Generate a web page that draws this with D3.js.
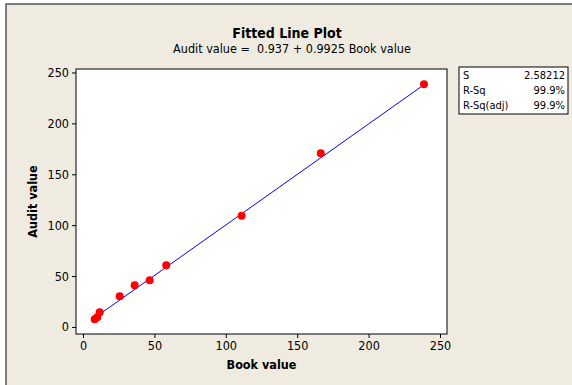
<!DOCTYPE html>
<html>
<head>
<meta charset="utf-8">
<script src="https://cdn.jsdelivr.net/npm/d3@7"></script>
<style>
  body { margin: 0; background: #fff; }
  text { font-family: "DejaVu Sans Condensed", "DejaVu Sans", sans-serif; fill: #000; }
</style>
</head>
<body>
<svg id="chart" width="572" height="385"></svg>
<script>
// data
var bookValue  = [8.2, 10.0, 11.7, 25.7, 36.2, 46.7, 58.3, 111.1, 166.5, 238.8];
var auditValue = [7.6, 9.5, 14.4, 30.2, 41.0, 45.9, 60.6, 109.3, 170.6, 238.4];
var fitIntercept = 0.937, fitSlope = 0.9925;
var xTicks = [0, 50, 100, 150, 200, 250];
var yTicks = [0, 50, 100, 150, 200, 250];
var statLabels = ["S", "R-Sq", "R-Sq(adj)"];
var statValues = ["2.58212", "99.9%", "99.9%"];

var svg = d3.select("#chart");

// beige frame
svg.append("rect")
    .attr("x", 6).attr("y", 4)
    .attr("width", 580).attr("height", 400)
    .attr("fill", "#efebe1")
    .attr("stroke", "#555")
    .attr("stroke-width", 1.5);

var box = {left: 76, right: 447, top: 69, bottom: 334};

var x = d3.scaleLinear().domain([-4.9, 254.9]).range([box.left, box.right]);
var y = d3.scaleLinear().domain([-6.9, 253.4]).range([box.bottom, box.top]);

svg.append("rect")
    .attr("x", box.left).attr("y", box.top)
    .attr("width", box.right - box.left).attr("height", box.bottom - box.top)
    .attr("fill", "#fff")
    .attr("stroke", "#000")
    .attr("stroke-width", 1);

var xAxis = svg.append("g")
    .attr("transform", "translate(0," + box.bottom + ")")
    .call(d3.axisBottom(x).tickValues(xTicks).tickSize(4).tickSizeOuter(0).tickPadding(3));
xAxis.select(".domain").remove();
xAxis.selectAll("text").style("font-size", "12.5px").style("font-family", null);

var yAxis = svg.append("g")
    .attr("transform", "translate(" + box.left + ",0)")
    .call(d3.axisLeft(y).tickValues(yTicks).tickSize(4).tickSizeOuter(0).tickPadding(3));
yAxis.select(".domain").remove();
yAxis.selectAll("text").style("font-size", "12.5px").style("font-family", null);

// fitted line over the data range
var xMin = d3.min(bookValue), xMax = d3.max(bookValue);
var fitLine = [xMin, xMax].map(function(v) { return [v, fitIntercept + fitSlope * v]; });
svg.append("path")
    .datum(fitLine)
    .attr("fill", "none")
    .attr("stroke", "#0000ff")
    .attr("stroke-width", 1)
    .attr("d", d3.line().x(function(d) { return x(d[0]); }).y(function(d) { return y(d[1]); }));

svg.append("g").selectAll("circle")
    .data(d3.range(bookValue.length))
    .enter().append("circle")
    .attr("cx", function(i) { return x(bookValue[i]); })
    .attr("cy", function(i) { return y(auditValue[i]); })
    .attr("r", 4)
    .attr("fill", "#ff0000");

// titles
svg.append("text")
    .attr("x", 287).attr("y", 38)
    .attr("text-anchor", "middle")
    .style("font-size", "14px").style("font-weight", "bold")
    .text("Fitted Line Plot");
svg.append("text")
    .attr("x", 292).attr("y", 53)
    .attr("text-anchor", "middle")
    .style("font-size", "12.5px")
    .attr("xml:space", "preserve")
    .text("Audit value =  0.937 + 0.9925 Book value");

svg.append("text")
    .attr("x", (box.left + box.right) / 2).attr("y", 369)
    .attr("text-anchor", "middle")
    .style("font-size", "12.5px").style("font-weight", "bold")
    .text("Book value");
svg.append("text")
    .attr("transform", "translate(37," + ((box.top + box.bottom) / 2) + ") rotate(-90)")
    .attr("text-anchor", "middle")
    .style("font-size", "12.5px").style("font-weight", "bold")
    .text("Audit value");

// stats box
var stats = svg.append("g").attr("transform", "translate(459,67)");
stats.append("rect")
    .attr("width", 109).attr("height", 47)
    .attr("fill", "#fff").attr("stroke", "#000");
stats.selectAll(".lab")
    .data(statLabels).enter().append("text")
    .attr("x", 4).attr("y", function(d, i) { return 12 + i * 15; })
    .style("font-size", "11px")
    .text(function(d) { return d; });
stats.selectAll(".val")
    .data(statValues).enter().append("text")
    .attr("x", 106).attr("y", function(d, i) { return 12 + i * 15; })
    .attr("text-anchor", "end")
    .style("font-size", "11px")
    .text(function(d) { return d; });
</script>
</body>
</html>
